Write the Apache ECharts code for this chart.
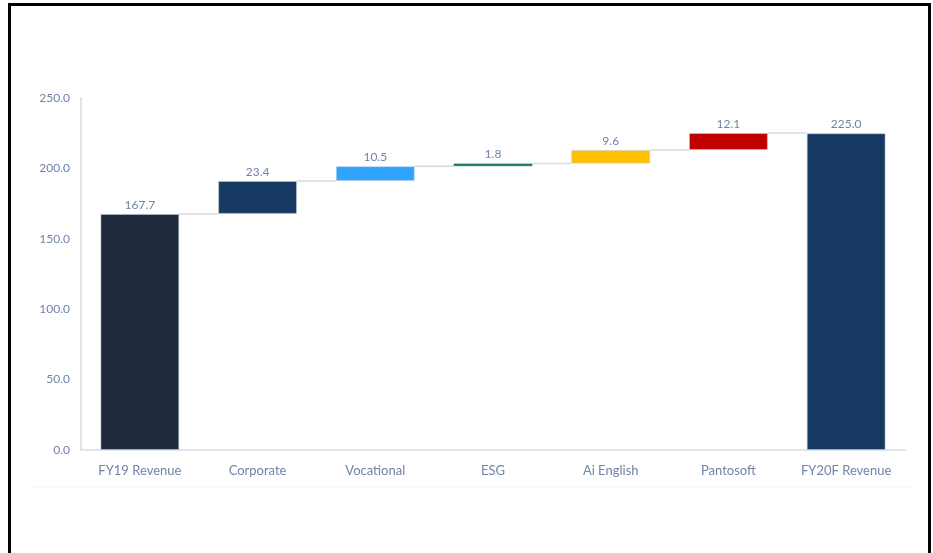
<!DOCTYPE html>
<html>
<head>
<meta charset="utf-8">
<script src="https://cdn.jsdelivr.net/npm/echarts@6/dist/echarts.min.js"></script>
<style>
html,body{margin:0;padding:0;background:#fff;}
#c{width:933px;height:553px;}
</style>
</head>
<body>
<div id="c"></div>
<script>
const categories = ['FY19 Revenue', 'Corporate', 'Vocational', 'ESG', 'Ai English', 'Pantosoft', 'FY20F Revenue'];
const values = [167.7, 23.4, 10.5, 1.8, 9.6, 12.1, 225.0];
const isTotal = [true, false, false, false, false, false, true];
const yTicks = [0, 50, 100, 150, 200, 250];

const palette = ['#1f2a3c', '#173a63', '#2fa4ff', '#1b7f72', '#ffc000', '#c00000', '#173a63'];
const textColor = '#6f84aa';
const axisColor = '#dfe5ef';

// waterfall bases
const bases = [];
const levels = [];
let run = 0;
values.forEach((v, i) => {
  if (isTotal[i]) { bases.push(0); run = v; }
  else { bases.push(run); run += v; }
  levels.push(run);
});
const connectors = levels.slice(0, -1).map((l, i) => [i, l]);

const chart = echarts.init(document.getElementById('c'), null, {renderer: 'canvas'});
chart.setOption({
  animation: false,
  backgroundColor: '#fff',
  grid: {left: 81, right: 28, top: 98, bottom: 103, containLabel: false},
  xAxis: {
    type: 'category',
    data: categories,
    axisLine: {show: true, lineStyle: {color: axisColor, width: 2}},
    axisTick: {show: false},
    axisLabel: {color: textColor, fontSize: 13, fontFamily: 'Lato', margin: 14, interval: 0}
  },
  yAxis: {
    type: 'value',
    min: yTicks[0],
    max: yTicks[yTicks.length - 1],
    interval: 50,
    axisLine: {show: true, lineStyle: {color: axisColor, width: 2}},
    axisTick: {show: false},
    splitLine: {show: false},
    axisLabel: {color: textColor, fontSize: 12, fontFamily: 'Lato', margin: 11,
      formatter: v => v.toFixed(1)}
  },
  graphic: [
    {type: 'rect', silent: true, z: 100,
     shape: {x: 9.5, y: 4.5, width: 920, height: 600},
     style: {fill: 'none', stroke: '#000', lineWidth: 3}},
    {type: 'line', silent: true,
     shape: {x1: 28, y1: 487, x2: 915, y2: 487},
     style: {stroke: '#f6f6f6', lineWidth: 1}}
  ],
  series: [
    {
      type: 'custom',
      z: 1,
      data: connectors,
      renderItem: function (params, api) {
        const p = api.coord([api.value(0), api.value(1)]);
        const w = api.size([1, 0])[0];
        const bw = w * 0.67;
        return {
          type: 'line',
          shape: {x1: p[0] + bw / 2, y1: p[1], x2: p[0] + w - bw / 2, y2: p[1]},
          style: {stroke: '#dadada', lineWidth: 1.5}
        };
      }
    },
    {
      type: 'bar',
      stack: 'w',
      barWidth: '67%',
      itemStyle: {color: 'transparent'},
      emphasis: {disabled: true},
      data: bases
    },
    {
      type: 'bar',
      stack: 'w',
      barWidth: '67%',
      data: values.map((v, i) => ({
        value: v,
        itemStyle: i === 3
          ? {color: palette[i], borderColor: palette[i], borderWidth: 1}
          : {color: palette[i]}
      })),
      itemStyle: {borderColor: 'rgba(190,202,220,0.55)', borderWidth: 1},
      label: {
        show: true, position: 'top', distance: 3,
        color: textColor, fontSize: 12, fontFamily: 'Lato',
        formatter: p => p.value.toFixed(1)
      }
    }
  ]
});
</script>
</body>
</html>
